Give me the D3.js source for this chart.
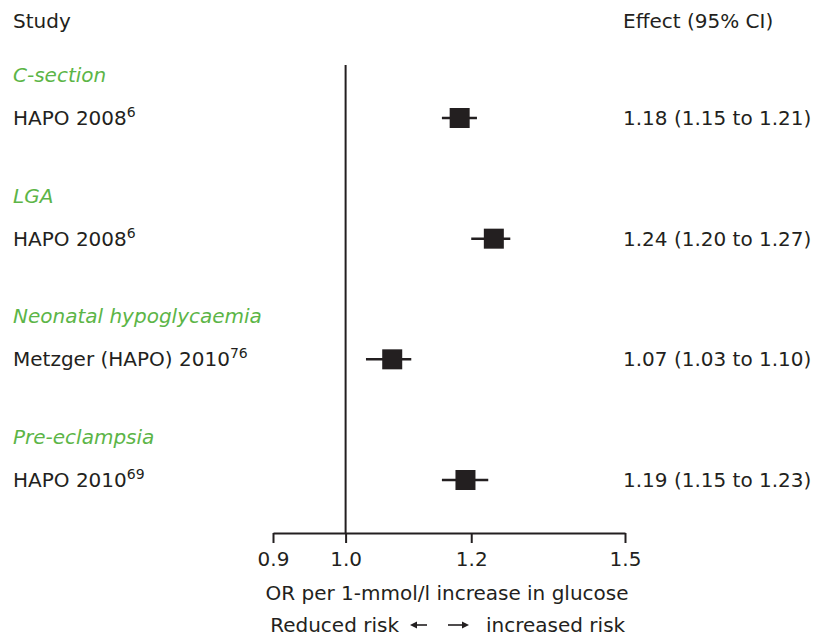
<!DOCTYPE html>
<html>
<head>
<meta charset="utf-8">
<script src="https://cdn.jsdelivr.net/npm/d3@7"></script>
<style>
  body { margin: 0; background: #fff; }
  text { font-family: "DejaVu Sans", "Open Sans", sans-serif; fill: #231f20; }
</style>
</head>
<body>
<svg id="chart" width="813" height="639"></svg>
<script>
const outcomes = ["C-section", "LGA", "Neonatal hypoglycaemia", "Pre-eclampsia"];
const studies = ["HAPO 2008", "HAPO 2008", "Metzger (HAPO) 2010", "HAPO 2010"];
const refs = ["6", "6", "76", "69"];
const estimates = [1.18, 1.24, 1.07, 1.19];
const lower = [1.15, 1.20, 1.03, 1.15];
const upper = [1.21, 1.27, 1.10, 1.23];
const effectLabels = ["1.18 (1.15 to 1.21)", "1.24 (1.20 to 1.27)", "1.07 (1.03 to 1.10)", "1.19 (1.15 to 1.23)"];
const tickValues = [0.9, 1.0, 1.2, 1.5];

const svg = d3.select("#chart");
const ink = "#231f20";
const green = "#5cb547";
const fs = 20;
const font = "DejaVu Sans, Open Sans, sans-serif";

const x = d3.scaleLog().domain([0.9, 1.5]).range([273, 625]);
const y = d3.scaleLinear().domain([0, 3]).range([118, 480]);
const headerOffset = -43;
const axisY = 533;

// headers
svg.append("text").attr("x", 13).attr("y", 28).attr("font-size", fs).text("Study");
svg.append("text").attr("x", 623).attr("y", 28).attr("font-size", fs).text("Effect (95% CI)");

// reference line at 1
svg.append("line")
  .attr("x1", x(1)).attr("x2", x(1))
  .attr("y1", 65).attr("y2", axisY)
  .attr("stroke", ink).attr("stroke-width", 2);

const idx = d3.range(outcomes.length);

// outcome headers
svg.selectAll("text.outcome").data(idx).join("text")
  .attr("class", "outcome")
  .attr("x", 13).attr("y", i => y(i) + headerOffset + 7)
  .attr("font-size", fs).attr("font-style", "italic")
  .style("fill", green)
  .text(i => outcomes[i]);

// study labels
const st = svg.selectAll("text.study").data(idx).join("text")
  .attr("class", "study")
  .attr("x", 13).attr("y", i => y(i) + 7)
  .attr("font-size", fs);
st.append("tspan").text(i => studies[i]);
st.append("tspan").attr("dy", -8).attr("font-size", 14).text(i => refs[i]);

// effect labels
svg.selectAll("text.eff").data(idx).join("text")
  .attr("class", "eff")
  .attr("x", 623).attr("y", i => y(i) + 7)
  .attr("font-size", fs)
  .text(i => effectLabels[i]);

// CI lines
svg.selectAll("line.ci").data(idx).join("line")
  .attr("class", "ci")
  .attr("x1", i => x(lower[i])).attr("x2", i => x(upper[i]))
  .attr("y1", i => y(i)).attr("y2", i => y(i))
  .attr("stroke", ink).attr("stroke-width", 2.5);

// squares
const sq = 20;
svg.selectAll("rect.pt").data(idx).join("rect")
  .attr("class", "pt")
  .attr("x", i => x(estimates[i]) - sq / 2)
  .attr("y", i => y(i) - sq / 2)
  .attr("width", sq).attr("height", sq)
  .attr("fill", ink);

// axis
const axis = d3.axisBottom(x)
  .tickValues(tickValues)
  .tickFormat(d3.format(".1f"))
  .tickSize(10)
  .tickSizeOuter(0)
  .tickPadding(9);
const g = svg.append("g").attr("transform", `translate(0,${axisY})`).call(axis);
g.select(".domain").attr("stroke", ink).attr("stroke-width", 2);
g.selectAll(".tick line").attr("stroke", ink).attr("stroke-width", 2);
g.selectAll(".tick text").attr("font-size", fs).attr("font-family", font).style("fill", ink);

// axis title
svg.append("text").attr("x", 447).attr("y", 600).attr("text-anchor", "middle")
  .attr("font-size", fs).text("OR per 1-mmol/l increase in glucose");
svg.append("text").attr("x", 399).attr("y", 632).attr("text-anchor", "end")
  .attr("font-size", fs).text("Reduced risk");
svg.append("text").attr("x", 486).attr("y", 632).attr("text-anchor", "start")
  .attr("font-size", fs).text("increased risk");

// arrows
function arrow(x1, x2, yy) {
  const dir = Math.sign(x2 - x1);
  svg.append("line").attr("x1", x1).attr("x2", x2 - dir * 4).attr("y1", yy).attr("y2", yy)
    .attr("stroke", ink).attr("stroke-width", 1.6);
  svg.append("path")
    .attr("d", `M${x2},${yy} L${x2 - dir * 7},${yy - 3.5} L${x2 - dir * 7},${yy + 3.5} Z`)
    .attr("fill", ink);
}
arrow(427, 410, 625);
arrow(448, 469, 625);
</script>
</body>
</html>
